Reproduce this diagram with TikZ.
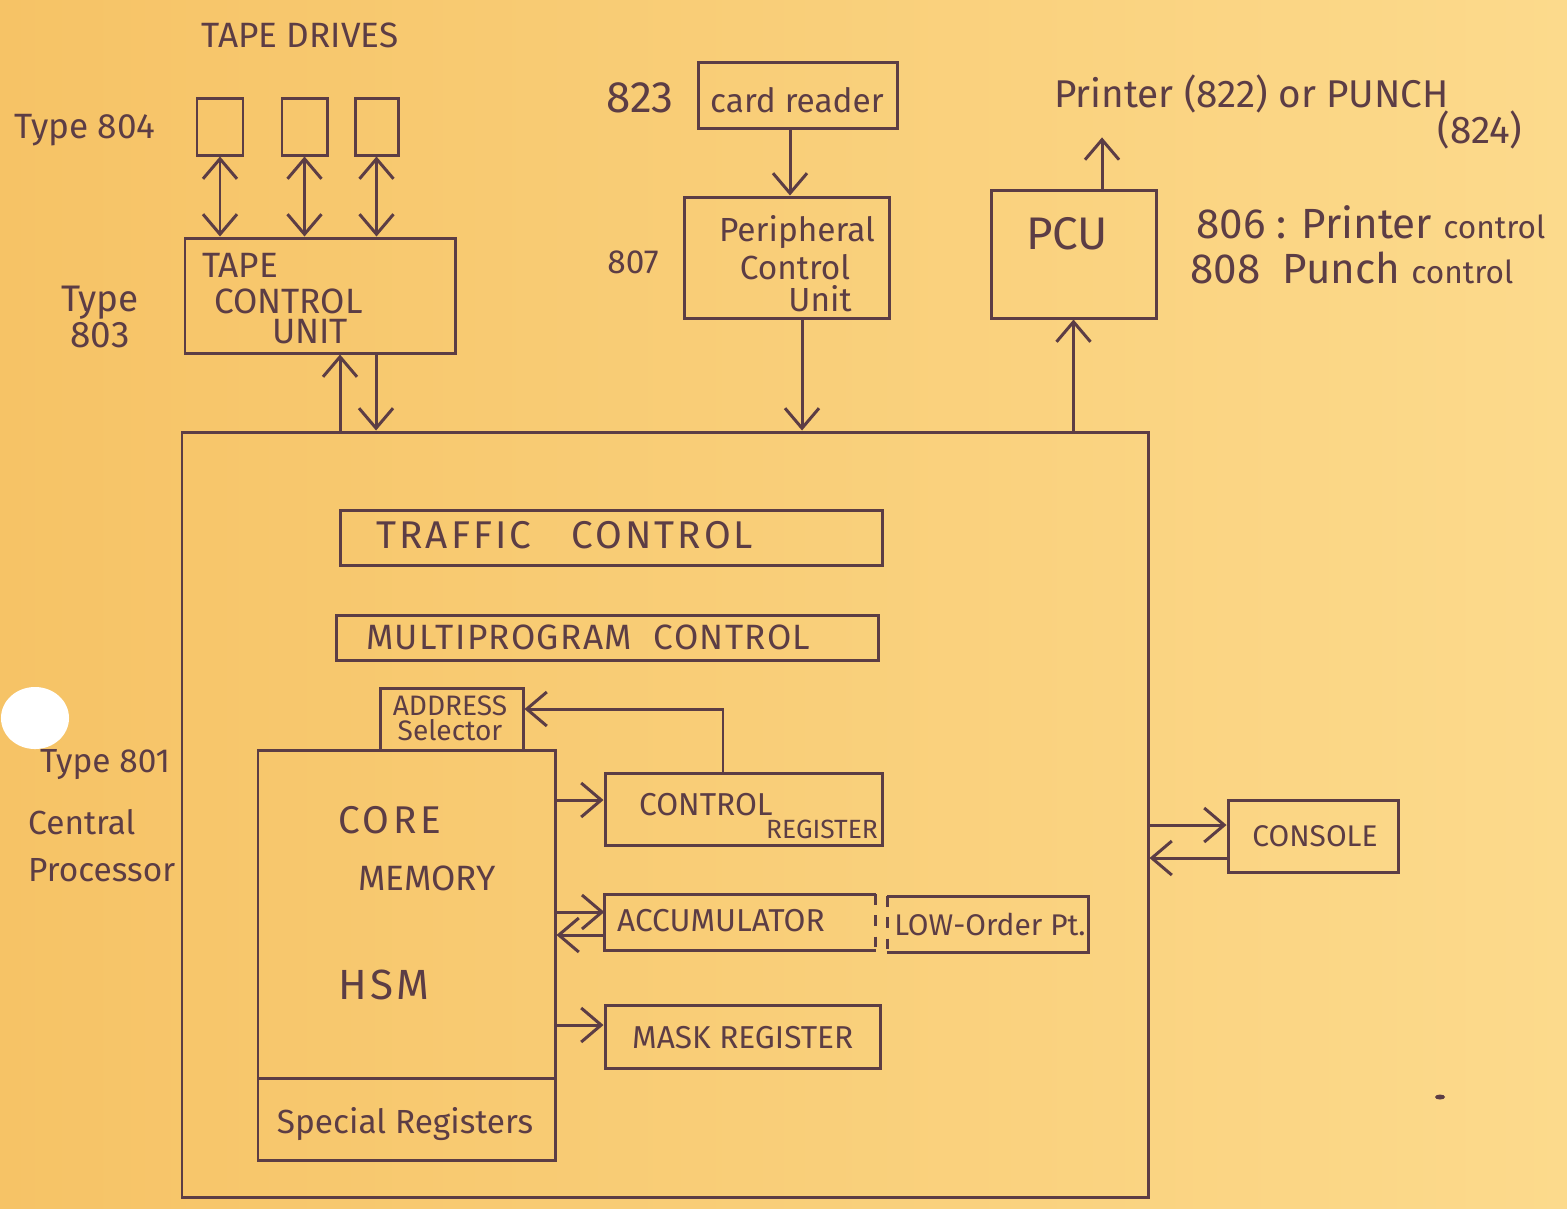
\documentclass[tikz,border=0pt]{standalone}
\usepackage{fontspec}
\setmainfont{Fira Sans}
\usetikzlibrary{arrows.meta,calc,fit}
\definecolor{ink}{RGB}{92,61,69}
\definecolor{paperL}{RGB}{246,195,102}
\definecolor{paperR}{RGB}{252,218,140}
\newcommand{\myfs}[1]{\fontsize{#1}{#1}\selectfont}
\begin{document}
\begin{tikzpicture}[x=0.01cm,y=-0.01cm,
  box/.style={draw=ink,line width=0.85pt,inner sep=0pt},
  nobox/.style={inner sep=0pt},
  line/.style={draw=ink,line width=0.85pt},
  arr/.style={draw=ink,line width=0.85pt,-{Straight Barb[length=2mm,width=3.4mm]}},
  arrr/.style={draw=ink,line width=0.85pt,{Straight Barb[length=2mm,width=3.4mm]}-{Straight Barb[length=2mm,width=3.4mm]}},
  txt/.style={text=ink,inner sep=1pt}]
\useasboundingbox (0,0) rectangle (1567,1208);
\shade[left color=paperL,right color=paperR] (0,0) rectangle (1567,1208);
\fill[white] (35,718) ellipse [x radius=0.34cm,y radius=0.31cm];
\fill[ink] (1440,1097) ellipse [x radius=0.05cm,y radius=0.025cm];

% tape drives
\node[txt,font=\myfs{10}] (tapedrives) at (300,35) {TAPE DRIVES};
\node[txt,font=\myfs{10}] (t804) at (85,130) {Type 804};
\node[box,fit={(197,98) (243,155)}] (d1) {};
\node[box,fit={(282,98) (327,155)}] (d2) {};
\node[box,fit={(355,98) (398,155)}] (d3) {};
\node[box,fit={(185,238) (455,353)}] (tcu) {};
\node[txt,anchor=west,font=\myfs{10}] (tcu1) at (198,265) {TAPE};
\node[txt,anchor=west,font=\myfs{10}] (tcu2) at (210,301) {CONTROL};
\node[txt,anchor=west,font=\myfs{10}] (tcu3) at (268,332) {UNIT};
\node[txt,font=\myfs{10.5},align=center] (t803) at (100,317) {Type\\803};
\draw[arrr] (d1.south) -- (d1.south |- tcu.north);
\draw[arrr] (d2.south) -- (d2.south |- tcu.north);
\draw[arrr] (d3.south) -- (d3.south |- tcu.north);

% card reader / peripheral control unit
\node[txt,font=\myfs{12.5}] (t823) at (640,98) {823};
\node[box,fit={(698,62) (897,128)}] (cr) {};
\node[txt,font=\myfs{9.5}] (crt) at (797,100) {card reader};
\node[box,fit={(684,197) (889,318)}] (per) {};
\node[txt,font=\myfs{9.5}] (t807) at (633,262) {807};
\node[txt,font=\myfs{9.5}] (per1) at (797,232) {Peripheral};
\node[txt,font=\myfs{9.5}] (per2) at (795,267) {Control};
\node[txt,font=\myfs{9.5}] (per3) at (820,299) {Unit};
\coordinate (crd) at ([xshift=-0.075cm]cr.south);
\draw[arr] (crd) -- (crd |- per.north);

% PCU and printer
\node[box,fit={(991,190) (1156,318)}] (pcu) {};
\node[txt,font=\myfs{13}] (pcut) at (1067,234) {PCU};
\node[txt,font=\myfs{11},anchor=west] (prn) at (1050,94) {Printer (822) or PUNCH};
\node[txt,font=\myfs{11}] (prn2) at (1480,130) {(824)};
\node[txt,font=\myfs{12},anchor=west] (c806) at (1192,222) {806 : Printer {\myfs{9}control}};
\node[txt,font=\myfs{12},anchor=west] (c808) at (1186,268) {808\ \ Punch {\myfs{9}control}};
\coordinate (pu) at ([xshift=0.285cm]pcu.north);
\coordinate (pt) at (pu |- prn.south);
\draw[arr] (pu) -- ([yshift=-0.2cm]pt);

% central processor
\node[box,fit={(182,432) (1148,1197)}] (cpu) {};
\coordinate (tu) at ([xshift=0.2cm]tcu.south);
\coordinate (td) at ([xshift=0.56cm]tcu.south);
\draw[arr] (tu |- cpu.north) -- (tu);
\draw[arr] (td) -- (td |- cpu.north);
\coordinate (pd) at ([xshift=0.155cm]per.south);
\draw[arr] (pd) -- (pd |- cpu.north);
\draw[arr] (pcu.south |- cpu.north) -- (pcu.south);

\node[txt,font=\myfs{9.5},anchor=west] (l801) at (36,765) {Type 801};
\node[txt,font=\myfs{9.5},anchor=west] (lcen) at (24,822) {Central};
\node[txt,font=\myfs{9.5},anchor=west] (lpro) at (24,870) {Processor};

\node[box,fit={(340,510) (882,565)}] (traffic) {};
\node[txt,font=\myfs{11}\addfontfeature{LetterSpace=8},anchor=west] (traffict) at (372,535) {TRAFFIC\ \ \ CONTROL};
\node[box,fit={(336,615) (878,660)}] (multi) {};
\node[txt,font=\myfs{10}\addfontfeature{LetterSpace=4},anchor=west] (multit) at (362,637) {MULTIPROGRAM\ \ CONTROL};

\node[box,fit={(380,688) (523,750)}] (addr) {};
\node[txt,font=\myfs{8},align=center] (addrt) at (450,718) {ADDRESS\\[-1pt]Selector};
\node[box,fit={(258,750) (555,1078)}] (core) {};
\node[box,fit={(258,1078) (555,1160)}] (spec) {};
\node[txt,font=\myfs{11}\addfontfeature{LetterSpace=10},anchor=west] (coret) at (334,820) {CORE};
\node[txt,font=\myfs{10},anchor=west] (memt) at (354,878) {MEMORY};
\node[txt,font=\myfs{12}\addfontfeature{LetterSpace=8},anchor=west] (hsmt) at (334,985) {HSM};
\node[txt,font=\myfs{9.5}] (spect) at (405,1124) {Special Registers};

\node[box,fit={(605,773) (882,845)}] (ctrl) {};
\node[txt,font=\myfs{9},anchor=west] (ctrlt1) at (635,805) {CONTROL};
\node[txt,font=\myfs{7.5},anchor=west] (ctrlt2) at (762,829) {REGISTER};

\node[nobox,fit={(605,895) (875,950)}] (acc) {};
\draw[line] (acc.north east) -- (acc.north west) -- (acc.south west) -- (acc.south east);
\draw[line,dashed] (acc.north east) -- (acc.south east);
\node[txt,font=\myfs{9},anchor=west] (acct) at (613,921) {ACCUMULATOR};
\node[nobox,fit={(888,897) (1088,952)}] (low) {};
\draw[line] (low.north west) -- (low.north east) -- (low.south east) -- (low.south west);
\draw[line,dashed] (low.north west) -- (low.south west);
\node[txt,font=\myfs{8.5}] (lowt) at (990,924) {LOW-Order Pt.};

\node[box,fit={(605,1005) (880,1068)}] (mask) {};
\node[txt,font=\myfs{9},anchor=west] (maskt) at (628,1038) {MASK REGISTER};

\node[box,fit={(1228,800) (1398,872)}] (console) {};
\node[txt,font=\myfs{8.5}] (consolet) at (1315,836) {CONSOLE};

% internal connectors
\coordinate (c1) at ([xshift=-0.205cm]ctrl.north);
\coordinate (a1) at ([yshift=0.1cm]addr.east);
\draw[arr] (c1) |- (a1);
\coordinate (c2) at ([yshift=0.09cm]ctrl.west);
\draw[arr] (core.east |- c2) -- (c2);
\coordinate (c3) at ([yshift=0.105cm]acc.west);
\draw[arr] (core.east |- c3) -- (c3);
\coordinate (c4) at ([yshift=-0.125cm]acc.west);
\draw[arr] (c4) -- (core.east |- c4);
\coordinate (c5) at ([yshift=0.115cm]mask.west);
\draw[arr] (core.east |- c5) -- (c5);
\coordinate (c6) at ([yshift=0.11cm]console.west);
\draw[arr] (cpu.east |- c6) -- (c6);
\coordinate (c7) at ([yshift=-0.22cm]console.west);
\draw[arr] (c7) -- (cpu.east |- c7);
\end{tikzpicture}
\end{document}
